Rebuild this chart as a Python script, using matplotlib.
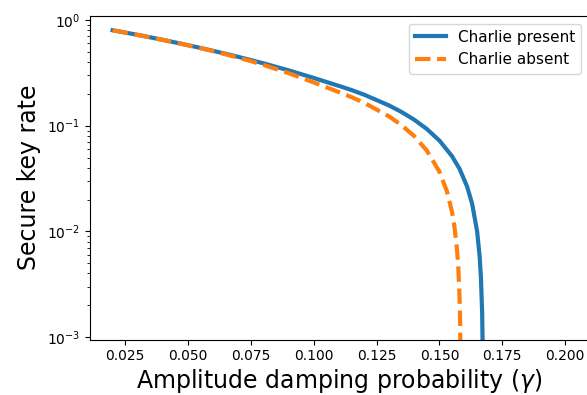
import matplotlib
matplotlib.use('Agg')
import matplotlib.pyplot as plt

# values (rate drops to zero at the end)
gamma_present = [0.020, 0.030, 0.040, 0.050, 0.060, 0.070, 0.080, 0.090, 0.100,
                 0.110, 0.115, 0.120, 0.130, 0.135, 0.140, 0.145, 0.150, 0.155,
                 0.158, 0.161, 0.163, 0.165, 0.166, 0.1665, 0.167, 0.1672, 0.1674]
rate_present = [0.800, 0.723, 0.649, 0.578, 0.511, 0.448, 0.389, 0.334, 0.283,
                0.238, 0.2175, 0.1968, 0.1553, 0.1345, 0.1138, 0.0930, 0.0723, 0.0515,
                0.0391, 0.0266, 0.0183, 0.0100, 0.0058, 0.0037, 0.0017, 0.0008, 0.0]

gamma_absent = [0.020, 0.030, 0.040, 0.050, 0.060, 0.070, 0.075, 0.080, 0.090,
                0.100, 0.110, 0.115, 0.120, 0.130, 0.135, 0.140, 0.145, 0.150,
                0.153, 0.155, 0.156, 0.157, 0.1575, 0.158, 0.1583, 0.1586]
rate_absent = [0.800, 0.722, 0.648, 0.576, 0.508, 0.440, 0.408, 0.376, 0.314,
               0.2565, 0.208, 0.1865, 0.1651, 0.1223, 0.1009, 0.0795, 0.0581, 0.0367,
               0.0239, 0.0153, 0.0110, 0.0067, 0.0046, 0.0024, 0.0012, 0.0]

fig = plt.figure(figsize=(5.87, 3.95), dpi=100)
ax = fig.add_axes([90 / 587, (395 - 339.5) / 395, (589 - 90) / 587, (339.5 - 16) / 395])

ax.plot(gamma_present, rate_present, '-', lw=3, color='tab:blue', label='Charlie present')
ax.plot(gamma_absent, rate_absent, '--', lw=3, color='tab:orange', label='Charlie absent')

ax.set_yscale('log', nonpositive='clip')
ax.set_xlim(0.011, 0.2095)
ax.set_ylim(9.49e-4, 1.091)
ax.set_xticks([0.025, 0.050, 0.075, 0.100, 0.125, 0.150, 0.175, 0.200])

ax.set_xlabel(r'Amplitude damping probability ($\gamma$)', fontsize=17, labelpad=3)
ax.set_ylabel('Secure key rate', fontsize=17)
ax.legend(loc='upper right', fontsize=11)

fig.savefig('out.png', dpi=100)
